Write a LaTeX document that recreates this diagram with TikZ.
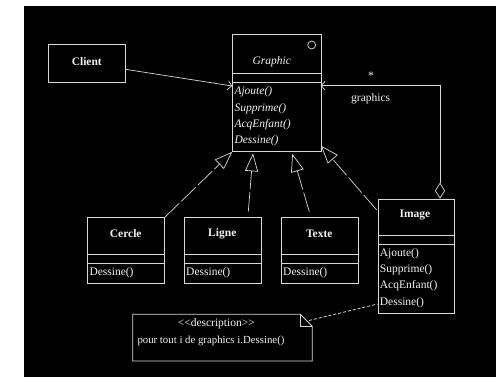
\documentclass[tikz,border=0pt]{standalone}
\usepackage{fontspec}
\setmainfont{Liberation Serif}
\usetikzlibrary{arrows.meta}
\definecolor{umlline}{HTML}{D9D9D9}
\definecolor{umltext}{HTML}{F2F2F2}
\begin{document}
\begin{tikzpicture}[x=1pt,y=-1pt,
  font=\fontsize{11.5}{13}\selectfont, text=umltext,
  classbox/.style={draw=umlline, line width=0.8pt, inner sep=0pt, anchor=north west},
  divider/.style={draw=umlline, line width=0.8pt},
  member/.style={anchor=west, inner sep=0pt},
  abstractmember/.style={member, font=\fontsize{11.5}{13}\selectfont\itshape},
  classname/.style={inner sep=0pt, font=\fontsize{11.5}{13}\selectfont\bfseries},
  realize/.style={draw=umlline, line width=0.7pt, dash pattern=on 20pt off 3pt,
    -{Triangle[open, length=18pt, width=13pt, fill=black]}},
  assoc/.style={draw=umlline, line width=0.7pt, -{Straight Barb[length=4pt, width=9pt]}},
  aggr/.style={draw=umlline, line width=0.7pt,
    {Diamond[open, length=16pt, width=10pt, fill=black]}-{Straight Barb[length=4pt, width=9pt]}},
  noteline/.style={draw=umlline, line width=0.8pt, dash pattern=on 3pt off 2pt},
  label/.style={inner sep=0pt}]

\useasboundingbox (0,0) rectangle (496,377);
\fill[white] (0,0) rectangle (496,377);
\fill[black] (24,6) rectangle (496,377);

% Client
\node[classbox, minimum width=77pt, minimum height=37.7pt] (client) at (48.3,44) {};
\node[classname] (clientname) at (86.8,61.5) {Client};

% Graphic (abstract)
\node[classbox, minimum width=88.4pt, minimum height=116.7pt] (graphic) at (232.3,34.3) {};
\draw[divider] (232.3,73.3) -- (320.7,73.3);
\draw[divider] (232.3,82.7) -- (320.7,82.7);
\node[draw=umlline, line width=0.7pt, circle, minimum size=8pt, inner sep=0pt] (abstractmark) at (311.7,45) {};
\node[label, font=\fontsize{11.5}{13}\selectfont\itshape] (graphicname) at (271.7,61.5) {Graphic};
\node[abstractmember] (gm1) at (234.3,91.7) {Ajoute()};
\node[abstractmember] (gm2) at (234.3,108.3) {Supprime()};
\node[abstractmember] (gm3) at (234.3,125) {AcqEnfant()};
\node[abstractmember] (gm4) at (234.3,141) {Dessine()};

% Leaf classes
\node[classbox, minimum width=76.7pt, minimum height=65.7pt] (cercle) at (87.3,217.3) {};
\draw[divider] (87.3,254.7) -- (164,254.7);
\draw[divider] (87.3,263.3) -- (164,263.3);
\node[classname] (cerclename) at (125.7,234) {Cercle};
\node[member] (cm1) at (89.3,272.7) {Dessine()};

\node[classbox, minimum width=76.7pt, minimum height=65.7pt] (ligne) at (184,217.3) {};
\draw[divider] (184,254.7) -- (260.7,254.7);
\draw[divider] (184,263.3) -- (260.7,263.3);
\node[classname] (lignename) at (222.3,234) {Ligne};
\node[member] (lm1) at (186,272.7) {Dessine()};

\node[classbox, minimum width=76.7pt, minimum height=65.7pt] (texte) at (281,217.3) {};
\draw[divider] (281,254.7) -- (357.7,254.7);
\draw[divider] (281,263.3) -- (357.7,263.3);
\node[classname] (textename) at (319.3,234) {Texte};
\node[member] (tm1) at (283,272.7) {Dessine()};

% Composite
\node[classbox, minimum width=76.6pt, minimum height=114pt] (image) at (377.7,198.7) {};
\draw[divider] (377.7,235.3) -- (454.3,235.3);
\draw[divider] (377.7,244) -- (454.3,244);
\node[classname] (imagename) at (415,214.7) {Image};
\node[member] (im1) at (379.7,253.3) {Ajoute()};
\node[member] (im2) at (379.7,269.7) {Supprime()};
\node[member] (im3) at (379.7,286) {AcqEnfant()};
\node[member] (im4) at (379.7,302.3) {Dessine()};

% Note
\draw[draw=umlline, line width=0.8pt] (132.7,314.3) -- (300.3,314.3) -- (312.3,326.3)
  -- (312.3,361) -- (132.7,361) -- cycle;
\draw[draw=umlline, line width=0.8pt] (300.3,314.3) -- (300.3,326.3) -- (312.3,326.3);
\coordinate (notecorner) at (309,320.5);
\node[label] (stereo) at (216.3,323.3) {<\kern0pt<description>\kern0pt>};
\node[label, anchor=west, font=\fontsize{10.8}{13}\selectfont] (notetext) at (137.3,340.7) {pour tout i de graphics i.Dessine()};

% Connector end points
\coordinate (clientout) at (125.3,69.3);
\coordinate (graphicin) at (232.3,86);
\coordinate (ligneout) at (248.3,211.7);
\coordinate (lignetip) at (253,153.3);
\coordinate (texteout) at (309.3,211.7);
\coordinate (textetip) at (292.3,153.8);
\coordinate (imageout) at (376.7,210);
\coordinate (imagetip) at (321,145.7);
\coordinate (aggrbend) at (440,85.7);
\coordinate (graphicout) at (320.7,85.7);
\coordinate (imagenote) at (377.7,304);

% Connectors
\draw[assoc] (clientout) -- (graphicin);
\draw[realize] (cercle.north east) -- (graphic.south west);
\draw[realize] (ligneout) -- (lignetip);
\draw[realize] (texteout) -- (textetip);
\draw[realize] (imageout) -- (imagetip);
\draw[aggr] (image.north -| aggrbend) -- (aggrbend) -- (graphicout);
\draw[noteline] (notecorner) -- (imagenote);

\node[label] (mult) at (371,75.5) {*};
\node[label] (role) at (370.7,99) {graphics};
\end{tikzpicture}
\end{document}
